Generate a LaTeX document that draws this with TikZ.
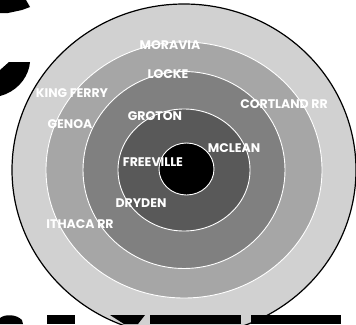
\documentclass[tikz,border=0pt]{standalone}
\usepackage{fontspec}
\setmainfont{Poppins}[BoldFont={* Bold}]
\begin{document}
\begin{tikzpicture}[x=1pt,y=-1pt]
\tikzset{town/.style={text=white,font=\fontsize{12.5}{14}\selectfont\bfseries,inner sep=0pt}}
\useasboundingbox (0,0) rectangle (356,324);
\fill[white] (0,0) rectangle (356,324);
\fill[black] (0,0) -- (26,0) -- (30,7) -- (22,10) -- (8,13) -- (0,13) -- cycle;
\fill[black] (0,70) -- (9,62) -- (30,62) .. controls (29,75) and (20,88) .. (6,94) -- (0,96) -- cycle;
\filldraw[fill=black!18,draw=black,line width=1.2pt] (184,170) ellipse [x radius=172pt,y radius=166pt];
\filldraw[fill=black!35,draw=white,line width=0.9pt] (184,170) ellipse [x radius=138pt,y radius=128pt];
\filldraw[fill=black!50,draw=white,line width=0.9pt] (184,170) ellipse [x radius=101pt,y radius=98.5pt];
\filldraw[fill=black!65,draw=white,line width=0.9pt] (184,170) ellipse [x radius=66pt,y radius=61pt];
\filldraw[fill=black,draw=white,line width=0.9pt] (186.5,169) ellipse [x radius=27.5pt,y radius=26pt];
\fill[black] (0,324) -- (0,318) .. controls (5,314) and (16,314) .. (22,320) -- (23,324) -- cycle;
\fill[black] (47,315) rectangle (75,324);
\fill[black] (110,315) -- (145,315) -- (138,324) -- (124,324) -- cycle;
\fill[black] (150,315) rectangle (241,324);
\fill[black] (251,315) rectangle (341,324);
\node[town] (moravia) at (170,45) {MORAVIA};
\node[town] (locke) at (168,74) {LOCKE};
\node[town] (kingferry) at (72,93) {KING FERRY};
\node[town] (genoa) at (70,124) {GENOA};
\node[town] (groton) at (155,116) {GROTON};
\node[town] (cortland) at (284,104) {CORTLAND RR};
\node[town] (mclean) at (234,148) {MCLEAN};
\node[town] (freeville) at (153,162) {FREEVILLE};
\node[town] (dryden) at (141,203) {DRYDEN};
\node[town] (ithaca) at (80,224) {ITHACA RR};
\end{tikzpicture}
\end{document}
